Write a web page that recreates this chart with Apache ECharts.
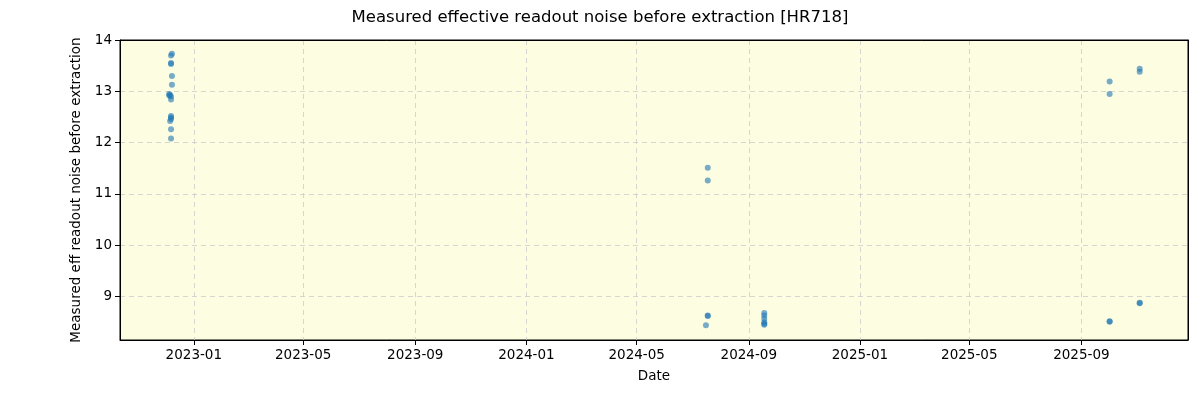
<!DOCTYPE html>
<html><head><meta charset="utf-8">
<script src="https://cdn.jsdelivr.net/npm/echarts@6/dist/echarts.min.js"></script>
<style>html,body{margin:0;padding:0;background:#fff}#c{width:1200px;height:400px}</style>
</head><body><div id="c"></div>
<script>
const dates = [
  '2022-12-08','2022-12-07','2022-12-07','2022-12-07','2022-12-08','2022-12-08',
  '2022-12-05','2022-12-05','2022-12-06','2022-12-07','2022-12-07','2022-12-07',
  '2022-12-07','2022-12-07','2022-12-06','2022-12-07','2022-12-07',
  '2024-07-18','2024-07-18','2024-07-18','2024-07-18','2024-07-16',
  '2024-09-18','2024-09-18','2024-09-18','2024-09-18','2024-09-18','2024-09-18',
  '2025-10-02','2025-10-02','2025-10-02','2025-10-02',
  '2025-11-04','2025-11-04','2025-11-04','2025-11-04'
];
const noise = [
  13.73,13.70,13.55,13.53,13.30,13.13,
  12.95,12.92,12.93,12.90,12.84,12.52,
  12.49,12.46,12.42,12.26,12.08,
  11.51,11.26,8.63,8.62,8.44,
  8.68,8.63,8.57,8.50,8.47,8.45,
  13.19,12.95,8.52,8.51,
  13.44,13.38,8.88,8.87
];
const xTicks = ['2023-01-01','2023-05-01','2023-09-01','2024-01-01','2024-05-01','2024-09-01','2025-01-01','2025-05-01','2025-09-01'];
const yTicks = [9,10,11,12,13,14];
const xRange = ['2022-10-12','2025-12-27'];
const yRange = [8.154,14];

const ts = s => Date.parse(s + 'T00:00:00Z');
const font = 'DejaVu Sans';
const chart = echarts.init(document.getElementById('c'), null, {renderer:'canvas'});
const frameX = {type:'value',position:'top',min:ts(xRange[0]),max:ts(xRange[1]),
  axisLine:{show:true,lineStyle:{color:'#000'}},axisTick:{show:false},axisLabel:{show:false},splitLine:{show:false}};
const frameY = {type:'value',position:'right',min:yRange[0],max:yRange[1],
  axisLine:{show:true,lineStyle:{color:'#000'}},axisTick:{show:false},axisLabel:{show:false},splitLine:{show:false}};
chart.setOption({
  animation:false,
  backgroundColor:'#ffffff',
  title:{text:'Measured effective readout noise before extraction [HR718]',left:'center',top:4,
    textStyle:{fontFamily:font,fontSize:16.5,fontWeight:'normal',color:'#000'}},
  grid:{left:120,right:12,top:40,bottom:60,show:true,backgroundColor:'#fdfde2',borderColor:'#000',borderWidth:1},
  xAxis:[{type:'value',min:ts(xRange[0]),max:ts(xRange[1]),
    name:'Date',nameLocation:'middle',nameGap:29,
    nameTextStyle:{fontFamily:font,fontSize:13.5,color:'#000'},
    axisLine:{show:true,lineStyle:{color:'#000'}},
    axisTick:{show:true,length:5,lineStyle:{color:'#000'},customValues:xTicks.map(ts)},
    axisLabel:{fontFamily:font,fontSize:13.5,color:'#000',margin:8,customValues:xTicks.map(ts),
      formatter:v=>{const d=new Date(v);return d.getUTCFullYear()+'-'+String(d.getUTCMonth()+1).padStart(2,'0');}},
    splitLine:{show:true,lineStyle:{color:'#cccccc',type:[5,4],width:0.8}}
  }, frameX],
  yAxis:[{type:'value',min:yRange[0],max:yRange[1],
    name:'Measured eff readout noise before extraction',nameLocation:'middle',nameGap:32,
    nameTextStyle:{fontFamily:font,fontSize:13.5,color:'#000'},
    axisLine:{show:true,lineStyle:{color:'#000'}},
    axisTick:{show:true,length:5,lineStyle:{color:'#000'},customValues:yTicks},
    axisLabel:{fontFamily:font,fontSize:13.5,color:'#000',margin:8,customValues:yTicks},
    splitLine:{show:true,lineStyle:{color:'#cccccc',type:[5,4],width:0.8}}
  }, frameY],
  series:[{type:'scatter',symbol:'circle',symbolSize:6,xAxisIndex:0,yAxisIndex:0,
    itemStyle:{color:'#1f77b4',opacity:0.6},
    data:dates.map((d,i)=>[ts(d),noise[i]])}]
});
</script></body></html>
